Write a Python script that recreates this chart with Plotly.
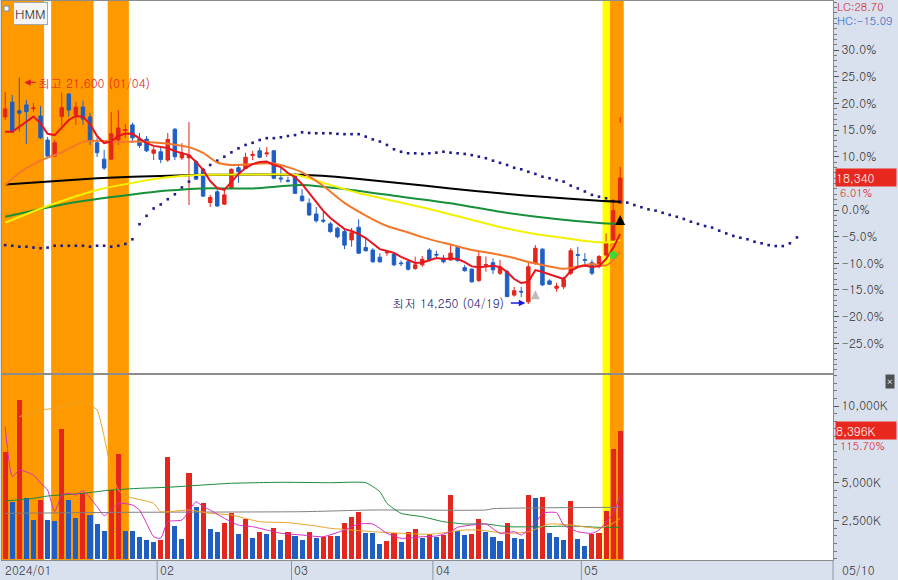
import plotly.graph_objects as go

# ---------------- data ----------------
TICKER = "HMM"
BASE_PRICE = 17300          # price at the 0.0% line of the right axis
month_labels = ["2024/01", "02", "03", "04", "05"]
month_start = [0, 22, 41, 61, 82]
last_date_label = "05/10"
pct_ticks = [30, 25, 20, 15, 10, 0, -5, -10, -15, -20, -25]
vol_ticks = [10000, 5000, 2500]
LC_TEXT, HC_TEXT = "LC:28.70", "HC:-15.09"
LAST_CHANGE_PCT = 6.01
VOL_RATIO_PCT = 115.70
HIGH_LABEL = ("최고", 2, 21600, "01/04")
LOW_LABEL = ("최저", 74, 14250, "04/19")

open_ = [20320, 20800, 20520, 20710, 20590, 20350, 19570, 19050, 20330, 21060,
         20380, 20640, 20320, 19480, 18950, 18950, 19570, 19880, 20060, 19600,
         19600, 19140, 19190, 18920, 19920, 18990, 18990, 18870, 18620, 17540,
         17890, 17490, 18000, 18670, 18650, 19070, 19220, 19120, 19220, 18340,
         18260, 18400, 17750, 17520, 17170, 16970, 16850, 16710, 16600, 16330,
         16740, 16080, 16000, 15770, 15910, 15870, 15580, 15620, 15400, 15520,
         16000, 15860, 15740, 15680, 16090, 15430, 15380, 15010, 15510, 15590,
         15250, 15300, 14540, 14660, 14320, 15570, 16030, 15000, 14760, 14810,
         15250, 15850, 15690, 15590, 15460, 15840, 16330, 17520]
high = [21130, 21030, 21600, 20870, 20770, 20670, 19670, 19570, 21110, 21100,
        20810, 20850, 20450, 19640, 19250, 20480, 20540, 20090, 20130, 19800,
        19700, 19350, 19340, 19800, 19960, 19470, 20150, 18920, 18660, 17790,
        17970, 18000, 18650, 18760, 19160, 19220, 19330, 19340, 19250, 18660,
        18380, 18490, 17980, 17680, 17400, 17240, 16920, 16760, 16650, 16720,
        17000, 16360, 16060, 15900, 16000, 15920, 15660, 15680, 15790, 15810,
        16060, 15980, 15840, 16160, 16110, 15520, 15410, 15950, 15790, 15730,
        15680, 15360, 14810, 14810, 15590, 16160, 16060, 15050, 14940, 15140,
        16060, 16100, 15900, 15680, 15840, 16540, 17570, 18700]
low = [20220, 19800, 19840, 19440, 20480, 19600, 19020, 19020, 20030, 20330,
       20060, 20060, 19410, 19020, 18600, 18920, 19410, 19640, 19470, 19310,
       19180, 18920, 18820, 18860, 18920, 18920, 17460, 18270, 17720, 17400,
       17410, 17460, 17970, 18180, 18630, 18920, 18980, 19020, 18300, 18190,
       18190, 17820, 17570, 17110, 16890, 16880, 16560, 16380, 16030, 16110,
       15870, 15950, 15590, 15590, 15810, 15480, 15480, 15330, 15360, 15460,
       15620, 15770, 15570, 15660, 15620, 15300, 14940, 14970, 15300, 15220,
       15190, 14470, 14490, 14470, 14250, 15520, 14830, 14870, 14650, 14730,
       15190, 15460, 15460, 15190, 15410, 15790, 16270, 17520]
close = [20580, 19830, 20440, 20490, 20610, 19640, 19050, 19480, 20620, 20540,
         20630, 20250, 19520, 19160, 18660, 19770, 19960, 19910, 19640, 19390,
         19220, 19250, 18940, 19590, 19030, 19150, 19080, 18300, 17750, 17710,
         17430, 17790, 18620, 18540, 19010, 19100, 19010, 19150, 18330, 18310,
         18240, 17840, 17600, 17140, 16950, 16940, 16600, 16430, 16160, 16560,
         15900, 15980, 15620, 15620, 15920, 15520, 15560, 15380, 15520, 15700,
         15680, 15840, 15620, 15900, 15660, 15330, 14970, 15790, 15530, 15360,
         15460, 14490, 14680, 14640, 15460, 16060, 14870, 14890, 14830, 15050,
         15980, 15830, 15670, 15250, 15790, 16220, 17280, 18340]
volume_k = [7000, 3734, 10395, 3956, 2535, 3845, 2535, 2470, 8475, 3845,
            2686, 4283, 2862, 2273, 1814, 4500, 6858, 1814, 1790, 1441,
            1225, 1094, 1225, 6642, 2162, 1290, 5594, 3406, 3629, 1945,
            1749, 2319, 3013, 1618, 2600, 1356, 1749, 1618, 2011, 1225,
            1749, 1507, 1225, 1749, 1356, 1390, 1487, 1470, 2319, 2751,
            3079, 1703, 1690, 963, 1159, 1664, 1094, 1749, 1945, 1356,
            1598, 1441, 1550, 4172, 1834, 1552, 1618, 2600, 1749, 1441,
            1179, 2319, 1356, 1290, 4172, 3996, 4041, 1683, 1421, 1225,
            3779, 1290, 832, 1618, 1664, 3124, 7186, 8396]

# price moving averages
ma5 = [19840, 19840, 20000, 20160, 20330, 20110, 19770, 19730, 19960, 20220,
       20350, 20330, 20090, 19700, 19470, 19520, 19700, 19780, 19770, 19630,
       19470, 19380, 19350, 19310, 19210, 19150, 19080, 18860, 18600, 18240,
       18010, 17950, 18210, 18470, 18660, 18790, 18860, 18870, 18760, 18690,
       18500, 18370, 18140, 17850, 17560, 17270, 17040, 16850, 16680, 16620,
       16520, 16390, 16200, 16030, 15970, 15910, 15780, 15680, 15580, 15600,
       15680, 15740, 15710, 15730, 15710, 15610, 15470, 15440, 15470, 15490,
       15450, 15290, 15060, 14930, 14970, 15350, 15290, 15220, 15130, 15060,
       15320, 15450, 15500, 15450, 15480, 15710, 16070, 16520]
ma20_idx = [0, 2, 4, 6, 8, 11, 13, 16, 19, 22, 24, 26, 28, 30, 32, 35, 38, 40, 42,
            45, 48, 51, 54, 57, 59, 61, 63, 66, 69, 72, 74, 77, 79, 81, 83, 85, 86, 87]
ma20 = [18110, 18500, 18790, 19000, 19170, 19510, 19550, 19510, 19520, 19470,
        19420, 19340, 19150, 18840, 18760, 18790, 18810, 18690, 18520, 18080,
        17530, 17120, 16780, 16570, 16420, 16290, 16180, 16000, 15890, 15740,
        15610, 15470, 15390, 15470, 15550, 15500, 15680, 15940]
ma60_idx = [0, 6, 13, 18, 23, 28, 35, 41, 45, 50, 55, 60, 65, 70, 75, 80, 84, 86, 87]
ma60 = [16890, 17430, 17950, 18180, 18360, 18440, 18450, 18440, 18180, 17850,
        17590, 17330, 17040, 16750, 16520, 16360, 16250, 16260, 16330]
ma120_idx = [0, 9, 18, 23, 28, 35, 42, 49, 56, 63, 70, 77, 84, 87]
ma120 = [17080, 17520, 17800, 17930, 18000, 18000, 18110, 17950, 17730, 17520,
         17240, 17030, 16880, 16850]
ma240_idx = [0, 13, 18, 28, 42, 49, 56, 63, 70, 77, 84, 87]
ma240 = [18130, 18330, 18380, 18440, 18440, 18330, 18170, 18000, 17840, 17710,
         17600, 17570]
# navy dotted line (extends 25 bars beyond the last candle)
lead_line = [16160, 16140, 16110, 16110, 16080, 16060, 16080, 16140, 16140, 16140,
             16140, 16140, 16110, 16140, 16140, 16110, 16140, 16200, 16350, 16840,
             17110, 17350, 17480, 17650, 17810, 18030, 18220, 18400, 18600, 18760,
             18900, 19030, 19170, 19300, 19410, 19480, 19570, 19630, 19630, 19660,
             19700, 19730, 19820, 19800, 19790, 19790, 19790, 19770, 19760, 19760,
             19760, 19680, 19590, 19520, 19410, 19270, 19190, 19140, 19140, 19120,
             19140, 19160, 19190, 19160, 19140, 19120, 19080, 19030, 18980, 18900,
             18830, 18760, 18670, 18620, 18540, 18470, 18380, 18330, 18270, 18220,
             18090, 18000, 17900, 17790, 17730, 17680, 17590, 17560, 17540, 17460,
             17390, 17320, 17280, 17210, 17140, 17080, 17010, 16920, 16850, 16780,
             16730, 16630, 16540, 16460, 16400, 16350, 16270, 16220, 16160, 16130,
             16130, 16220, 16410]

# volume moving averages (thousand shares)
vma5_idx = [0, 1, 2, 4, 5, 6, 7, 8, 9, 10, 11, 13, 14, 15, 16, 18, 19, 20, 21, 22,
            23, 25, 27, 28, 29, 31, 33, 35, 37, 39, 42, 45, 48, 50, 52, 54, 56, 59,
            61, 63, 64, 66, 68, 70, 72, 73, 75, 76, 78, 79, 81, 83, 84, 86, 87]
vma5 = [8646, 5371, 5810, 5482, 4958, 4500, 3079, 4172, 4284, 4172, 4454, 3406,
        2817, 3190, 3629, 3517, 3190, 2319, 1441, 1336, 2424, 2535, 3734, 3406,
        3190, 2646, 2207, 2096, 1880, 1664, 1552, 1441, 1880, 2273, 2273, 1664,
        1336, 1441, 1487, 1768, 2057, 2207, 2273, 1664, 1768, 1552, 2319, 2974,
        3013, 2207, 1768, 1664, 1880, 2974, 4170]
vma20_idx = [2, 5, 7, 11, 12, 13, 14, 15, 16, 17, 21, 22, 26, 29, 32, 36, 40, 44,
             46, 49, 52, 56, 60, 62, 65, 67, 71, 74, 77, 80, 84, 86, 87]
vma20 = [9301, 9740, 9851, 10283, 10067, 9740, 7991, 5810, 4500, 4107, 3629, 3079,
         3190, 2974, 2862, 2424, 2358, 2142, 1991, 1880, 1768, 1664, 1598, 1703,
         1880, 1880, 1664, 1768, 2273, 2207, 1991, 2319, 2646]
vma60_idx = [0, 4, 6, 11, 15, 19, 23, 28, 32, 39, 46, 51, 53, 54, 56, 59, 62, 65,
             68, 71, 76, 80, 84, 87]
vma60 = [3779, 3956, 4107, 4284, 4500, 4611, 4677, 4827, 4939, 5004, 4978, 4978,
         4389, 3629, 2974, 2751, 2424, 2273, 2273, 2096, 2096, 2142, 2057, 2057]
vma120_idx = [0, 18, 42, 52, 68, 69, 87]
vma120 = [2974, 3039, 3079, 3190, 3190, 3275, 3367]

# signal highlight bands (first bar, last bar)
orange_bands = [(0, 5), (7, 12), (15, 17), (86, 87)]
yellow_bands = [(85, 85)]
# signal markers
green_signal = (86, 15840)
black_signal = (87, 17140)
gray_signal = (75, 14700)
limit_mark = (87, 20220)

# ---------------- figure ----------------
W, H = 898, 580
ML, MR, MT, MB = 2, 65, 1, 20
PW, PH = W - ML - MR, H - MT - MB
X_MIN, X_MAX = -0.45, 117.1
FONT = "Gulim, Dotum, 'Noto Sans CJK KR', sans-serif"
RED, BLUE = "#e4261c", "#1f5fc4"


def px_x(px):
    return (px - ML) / PW


def px_y(py):
    return (H - MB - py) / PH


bars = list(range(len(close)))
lead_x = list(range(len(lead_line)))

fig = go.Figure()

fig.add_trace(go.Scatter(x=lead_x, y=lead_line, mode="markers",
                         marker=dict(symbol="square", size=2.6, color="#1c1c8a"),
                         xaxis="x", yaxis="y", hoverinfo="skip"))

fig.add_trace(go.Candlestick(x=bars, open=open_, high=high, low=low, close=close,
                             increasing=dict(line=dict(color=RED, width=1), fillcolor=RED),
                             decreasing=dict(line=dict(color=BLUE, width=1), fillcolor=BLUE),
                             whiskerwidth=0, xaxis="x", yaxis="y", hoverinfo="skip"))

fig.add_trace(go.Scatter(x=ma240_idx, y=ma240, mode="lines", line=dict(color="#000000", width=2, shape="spline", smoothing=0.6), hoverinfo="skip"))
fig.add_trace(go.Scatter(x=ma120_idx, y=ma120, mode="lines", line=dict(color="#17903a", width=2, shape="spline", smoothing=0.6), hoverinfo="skip"))
fig.add_trace(go.Scatter(x=ma60_idx, y=ma60, mode="lines", line=dict(color="#f2f200", width=2, shape="spline", smoothing=0.6), hoverinfo="skip"))
fig.add_trace(go.Scatter(x=ma20_idx, y=ma20, mode="lines", line=dict(color="#f5782a", width=2, shape="spline", smoothing=0.6), hoverinfo="skip"))
fig.add_trace(go.Scatter(x=bars, y=ma5, mode="lines", line=dict(color="#e8141e", width=2), hoverinfo="skip"))

fig.add_trace(go.Scatter(x=[green_signal[0]], y=[green_signal[1]], mode="markers",
                         marker=dict(symbol="pentagon", size=9, color="#33dd33"), hoverinfo="skip"))
fig.add_trace(go.Scatter(x=[gray_signal[0]], y=[gray_signal[1]], mode="markers",
                         marker=dict(symbol="arrow-up", size=9, color="#bdbdbd"), hoverinfo="skip"))
fig.add_trace(go.Scatter(x=[black_signal[0]], y=[black_signal[1]], mode="markers",
                         marker=dict(symbol="arrow-up", size=10, color="#000000"), hoverinfo="skip"))
fig.add_trace(go.Scatter(x=[limit_mark[0]], y=[limit_mark[1]], mode="markers",
                         marker=dict(symbol="line-ns", size=4, line=dict(color=RED, width=1)), hoverinfo="skip"))

# volume
vol_colors = [RED if i == 0 or volume_k[i] >= volume_k[i - 1] else BLUE for i in bars]
fig.add_trace(go.Bar(x=bars, y=volume_k, marker=dict(color=vol_colors, line=dict(width=0)),
                     width=0.72, xaxis="x2", yaxis="y2", hoverinfo="skip"))
for xs, ys, col in [(vma120_idx, vma120, "#808080"), (vma60_idx, vma60, "#1a8a3a"),
                    (vma20_idx, vma20, "#eaa42a"), (vma5_idx, vma5, "#d42cc4")]:
    fig.add_trace(go.Scatter(x=xs, y=ys, mode="lines", xaxis="x2", yaxis="y2",
                             line=dict(color=col, width=1, shape="spline", smoothing=0.5),
                             hoverinfo="skip"))

shapes = []
for s, e in orange_bands:
    shapes.append(dict(type="rect", xref="x", yref="paper", x0=max(s - 0.5, X_MIN), x1=e + 0.5, y0=0, y1=1,
                       fillcolor="#ff9900", line=dict(width=0), layer="below"))
for s, e in yellow_bands:
    shapes.append(dict(type="rect", xref="x", yref="paper", x0=s - 0.5, x1=e + 0.5, y0=0, y1=1,
                       fillcolor="#ffff00", line=dict(width=0), layer="below"))
for ms in month_start[1:]:
    shapes.append(dict(type="line", xref="x", yref="paper", x0=ms - 0.5, x1=ms - 0.5,
                       y0=-MB / PH, y1=0, line=dict(color="#8a96a8", width=1)))
shapes.append(dict(type="line", xref="paper", yref="paper", x0=1, x1=1, y0=-MB / PH, y1=0,
                   line=dict(color="#8a96a8", width=1)))
shapes.append(dict(type="rect", xref="paper", yref="paper", x0=px_x(4), x1=px_x(9),
                   y0=px_y(11), y1=px_y(6), fillcolor="#ffffff", line=dict(color="#7088a8", width=1)))

ann = []
ann.append(dict(xref="paper", yref="paper", x=px_x(13), y=px_y(2), xanchor="left", yanchor="top",
                text=TICKER, showarrow=False, bgcolor="#f4f4f4", bordercolor="#a8a8a8", borderwidth=1,
                borderpad=1, font=dict(size=13, color="#222222", family=FONT)))
# high / low labels
hn, hi, hv, hd = HIGH_LABEL
ann.append(dict(xref="x", yref="y", x=hi, y=hv, ax=13, ay=0, text="", showarrow=True,
                arrowhead=2, arrowsize=1, arrowwidth=1.3, arrowcolor="#e02020", xshift=5, yshift=-5,
                standoff=0, startstandoff=0))
ann.append(dict(xref="x", yref="y", x=hi, y=hv, xanchor="left", yanchor="middle", showarrow=False,
                text=f"{hn} {hv:,} ({hd})", xshift=17, yshift=-5,
                font=dict(size=12, color="#e02020", family=FONT)))
ln, li, lv, ld = LOW_LABEL
ann.append(dict(xref="x", yref="y", x=li, y=lv, ax=-16, ay=0, text="", showarrow=True,
                arrowhead=2, arrowsize=1, arrowwidth=1.3, arrowcolor="#1a1ae0", xshift=-3, yshift=1,
                standoff=0, startstandoff=0))
ann.append(dict(xref="x", yref="y", x=li, y=lv, xanchor="right", yanchor="middle", showarrow=False,
                text=f"{ln} {lv:,} ({ld})", xshift=-22, yshift=2,
                font=dict(size=12, color="#20206e", family=FONT)))
# right-side labels
ann.append(dict(xref="paper", yref="paper", x=px_x(835), y=px_y(7), xanchor="left", yanchor="middle",
                text=LC_TEXT, showarrow=False, font=dict(size=11, color="#d42020", family=FONT)))
ann.append(dict(xref="paper", yref="paper", x=px_x(835), y=px_y(20), xanchor="left", yanchor="middle",
                text=HC_TEXT, showarrow=False, font=dict(size=11, color="#1f5fc4", family=FONT)))
ann.append(dict(xref="paper", yref="y", x=px_x(835), y=close[-1], xanchor="left", yanchor="middle",
                text=f"{close[-1]:,}", showarrow=False, bgcolor="#e8281e", width=60, align="left",
                borderpad=0, font=dict(size=12, color="#ffffff", family=FONT)))
ann.append(dict(xref="paper", yref="y", x=px_x(838), y=close[-1], yshift=-15, xanchor="left",
                yanchor="middle", text=f"{LAST_CHANGE_PCT:.2f}%", showarrow=False,
                font=dict(size=11, color="#e02020", family=FONT)))
ann.append(dict(xref="paper", yref="y2", x=px_x(835), y=volume_k[-1], xanchor="left", yanchor="middle",
                text=f"{volume_k[-1]:,}K", showarrow=False, bgcolor="#e8281e", width=60, align="left",
                borderpad=0, font=dict(size=12, color="#ffffff", family=FONT)))
ann.append(dict(xref="paper", yref="y2", x=px_x(838), y=volume_k[-1], yshift=-15, xanchor="left",
                yanchor="middle", text=f"{VOL_RATIO_PCT:.2f}%", showarrow=False,
                font=dict(size=11, color="#e02020", family=FONT)))
ann.append(dict(xref="paper", yref="paper", x=px_x(890), y=px_y(381), xanchor="center", yanchor="middle",
                text="×", showarrow=False, bgcolor="#505050", borderpad=0,
                font=dict(size=9, color="#ffffff", family=FONT)))
# date strip
for lab, ms in zip(month_labels, month_start):
    ann.append(dict(xref="x", yref="paper", x=max(ms - 0.5, X_MIN), y=px_y(570), xanchor="left",
                    yanchor="middle", xshift=1, text=lab, showarrow=False,
                    font=dict(size=12, color="#333333", family=FONT)))
ann.append(dict(xref="paper", yref="paper", x=px_x(840), y=px_y(570), xanchor="left", yanchor="middle",
                text=last_date_label, showarrow=False, font=dict(size=12, color="#333333", family=FONT)))

axis_line = "#8c8c8c"
top_dom = [(H - MB - 373) / PH, 1]
bot_dom = [0, (H - MB - 375) / PH]

fig.update_layout(
    width=W, height=H, margin=dict(l=ML, r=MR, t=MT, b=MB),
    paper_bgcolor="#d9e1ee", plot_bgcolor="#ffffff", showlegend=False,
    font=dict(family=FONT, size=12, color="#333333"),
    bargap=0, shapes=shapes, annotations=ann, hovermode=False,
    xaxis=dict(domain=[0, 1], range=[X_MIN, X_MAX], anchor="y", showticklabels=False,
               showline=True, mirror=True, linecolor=axis_line, showgrid=False, zeroline=False,
               rangeslider=dict(visible=False), ticks=""),
    xaxis2=dict(domain=[0, 1], matches="x", anchor="y2", showticklabels=False,
                showline=True, mirror=True, linecolor=axis_line, showgrid=False, zeroline=False, ticks=""),
    yaxis=dict(domain=top_dom, range=[12012, 24080], side="right", showgrid=False, zeroline=False,
               showline=True, mirror=True, linecolor=axis_line,
               tickmode="array", tickvals=[BASE_PRICE * (1 + p / 100) for p in pct_ticks],
               ticktext=[f"{p:.1f}%" for p in pct_ticks], ticks="outside", ticklen=5,
               tickcolor="#555555", tickfont=dict(size=12, color="#333333", family=FONT),
               minor=dict(tickmode="linear", tick0=BASE_PRICE, dtick=BASE_PRICE * 0.01,
                          ticks="outside", ticklen=3, tickcolor="#777777", showgrid=False)),
    yaxis2=dict(domain=bot_dom, range=[-85, 12032], side="right", showgrid=False, zeroline=False,
                showline=True, mirror=True, linecolor=axis_line,
                tickmode="array", tickvals=vol_ticks, ticktext=[f"{v:,}K" for v in vol_ticks],
                ticks="outside", ticklen=5, tickcolor="#555555",
                tickfont=dict(size=12, color="#333333", family=FONT),
                minor=dict(tickmode="linear", tick0=0, dtick=500, ticks="outside", ticklen=3,
                           tickcolor="#777777", showgrid=False)),
)

fig.write_html("out.html", config={"displayModeBar": False},
               post_script="document.body.style.margin='0';document.body.style.overflow='hidden';")
